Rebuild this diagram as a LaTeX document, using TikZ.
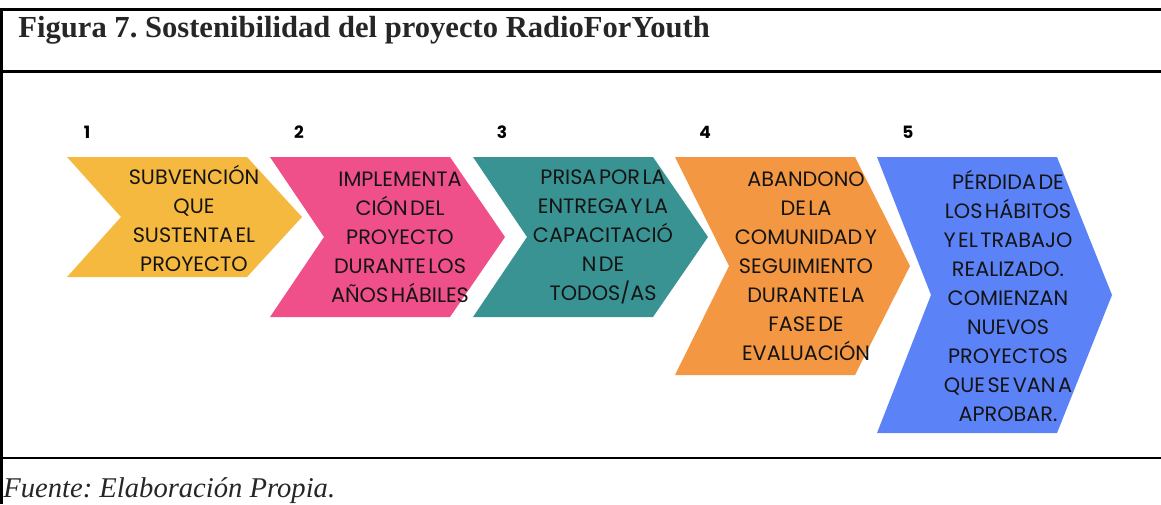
\documentclass[tikz,border=0pt]{standalone}
\usepackage{fontspec}
\setmainfont{Liberation Serif}
\newfontfamily\pasofont[WordSpace=0.45]{Poppins}
\usepackage{xcolor}
\usepackage{tikz}
\usetikzlibrary{positioning}
\frenchspacing

\definecolor{amarillo}{RGB}{246,185,64}
\definecolor{rosa}{RGB}{240,80,138}
\definecolor{verdeazul}{RGB}{58,147,147}
\definecolor{naranja}{RGB}{243,151,66}
\definecolor{azul}{RGB}{92,130,248}
\definecolor{tinta}{RGB}{38,38,38}

%% chevron: left x, top y, bottom y, colour
\newcommand{\flecha}[4]{%
    \fill[#4] (#1,#2) -- ({#1+180},#2)
        -- ({#1+235},{(#2+#3)/2}) -- ({#1+180},#3)
        -- (#1,#3) -- ({#1+54},{(#2+#3)/2}) -- cycle;}

\begin{document}
\begin{tikzpicture}[
    x = 0.5pt, y = -0.5pt,
    marco/.style  = {draw=black, line width=1.5pt},
    numero/.style = {inner sep=0pt, text=black,
                     font=\pasofont\bfseries\fontsize{8.5}{10}\selectfont},
    paso/.style   = {align=center, inner sep=0pt,
                     text=black!92,
                     font=\pasofont\fontsize{10.4}{14.5}\selectfont}
]
\useasboundingbox (0,0) rectangle (1161,504);

%% Frame
\draw[marco] (0,9) -- (1161,9);
\draw[marco] (0,71) -- (1161,71);
\draw[draw=black, line width=1pt] (0,458) -- (1161,458);
\draw[draw=black, line width=1.3pt] (1.5,8) -- (1.5,504);

%% Title and source
\node[anchor=base west, inner sep=0pt, text=tinta,
      font=\bfseries\fontsize{15.3}{18}\selectfont]
    (titulo) at (18,37)
    {Figura 7. Sostenibilidad del proyecto RadioForYouth};
\node[anchor=base west, inner sep=0pt, text=tinta,
      font=\itshape\fontsize{14.3}{17}\selectfont]
    (fuente) at (3,497)
    {Fuente: Elaboración Propia.};

%% Chevrons
\flecha{67}{157}{277}{amarillo}
\flecha{270}{157}{317}{rosa}
\flecha{473}{157}{317}{verdeazul}
\flecha{675}{157}{375}{naranja}
\flecha{877}{157}{433}{azul}

%% Numbers
\node[numero] (n1) at (87,132)  {1};
\node[numero] (n2) at (299,132) {2};
\node[numero] (n3) at (502,132) {3};
\node[numero] (n4) at (705,132) {4};
\node[numero] (n5) at (908,132) {5};

%% Step texts
\node[paso] (p1) at (194,218)
    {SUBVENCIÓN\\QUE\\SUSTENTA EL\\PROYECTO};
\node[paso] (p2) at (400,237)
    {IMPLEMENTA\\CIÓN DEL\\PROYECTO\\DURANTE LOS\\AÑOS HÁBILES};
\node[paso] (p3) at (603,237)
    {PRISA POR LA\\ENTREGA Y LA\\CAPACITACIÓ\\N DE\\TODOS/AS};
\node[paso] (p4) at (806,266)
    {ABANDONO\\DE LA\\COMUNIDAD Y\\SEGUIMIENTO\\DURANTE LA\\FASE DE\\EVALUACIÓN};
\node[paso] (p5) at (1008,296)
    {PÉRDIDA DE\\LOS HÁBITOS\\Y EL TRABAJO\\REALIZADO.\\COMIENZAN\\NUEVOS\\PROYECTOS\\QUE SE VAN A\\APROBAR.};
\end{tikzpicture}
\end{document}
